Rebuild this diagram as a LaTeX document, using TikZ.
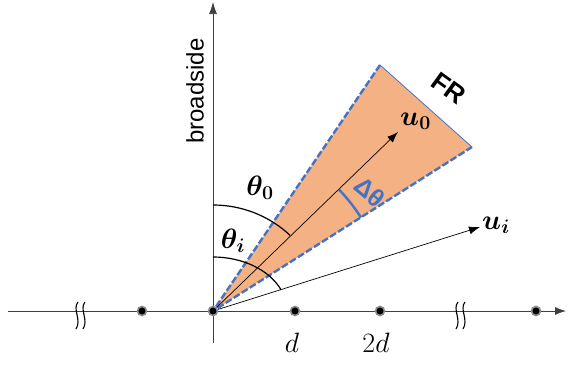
\RequirePackage{fix-cm}
\documentclass[tikz,border=0pt]{standalone}
\usepackage{amsmath,amssymb}
\usepackage{fontspec}
\usepackage{xcolor}
\usepackage{tikz}
\usetikzlibrary{arrows.meta,positioning,calc}
\newfontfamily\labelfont{Liberation Sans}
\definecolor{frfill}{HTML}{F4B183}
\definecolor{frblue}{HTML}{4472C4}

\begin{document}
\begin{tikzpicture}[
  x=1pt, y=1pt,
  elem/.style={circle, draw=black!45, fill=black, line width=1.6pt, minimum size=9pt, inner sep=0pt},
  axis/.style={draw=black!75, line width=0.8pt},
  beam/.style={draw=black, line width=0.7pt, -{Latex[length=11pt,width=8pt]}},
  edgefr/.style={draw=frblue, line width=2.4pt, dash pattern=on 7pt off 2.5pt},
  angarc/.style={draw=black, line width=1.2pt},
  breakmark/.style={draw=black, line width=1.1pt},
  mathlbl/.style={font=\fontsize{28}{32}\selectfont, inner sep=1pt},
  sanslbl/.style={font=\labelfont\fontsize{24}{28}\selectfont}
]
  \useasboundingbox (-213,-54) rectangle (355,311);

  % Field of regard
  \coordinate (O) at (0,0);
  \coordinate (fr1) at (167,246);
  \coordinate (fr2) at (259,164);
  \fill[frfill] (O) -- (fr1) -- (fr2) -- cycle;
  \draw[frblue, line width=0.8pt] (fr1) -- (fr2);
  \draw[edgefr] ($(O)!-4pt!(fr1)$) -- (fr1);
  \draw[edgefr] ($(O)!-4pt!(fr2)$) -- (fr2);

  % Axes
  \coordinate (xl) at (-205,0);
  \coordinate (xr) at (353,0);
  \coordinate (yb) at (0,-32);
  \coordinate (yt) at (0,309);
  \draw[axis, -{Latex[length=11pt,width=8pt]}] (xl) -- (xr);
  \draw[axis, line width=0.7pt, -{Latex[length=12pt,width=8pt]}] (yb) -- (yt);
  \node[sanslbl, rotate=90] (bs) at (-18,220) {broadside};

  % Array elements
  \node[elem] (e1) at (-71,0) {};
  \node[elem] (e0) at (0,0) {};
  \node[elem] (e2) at (82,0) {};
  \node[elem] (e3) at (167,0) {};
  \node[elem] (e4) at (323,0) {};
  \node[mathlbl] (ld) at (79,-32) {$d$};
  \node[mathlbl] (l2d) at (163,-32) {$2d$};

  % Axis breaks
  \foreach \bx in {-136,-129,244,251} {
    \draw[breakmark] (\bx+1,9) .. controls (\bx-5,2) and (\bx+5,-9) .. (\bx-1,-18);
  }

  % Directions
  \coordinate (uz) at (185,179);
  \coordinate (ui) at (267,84);
  \draw[beam] (e0) -- (uz);
  \draw[beam] (e0) -- (ui);
  \node[mathlbl, anchor=west] (luz) at (186,190) {$\boldsymbol{u_0}$};
  \node[mathlbl, anchor=west] (lui) at (268,86) {$\boldsymbol{u_i}$};

  % Angles
  \draw[angarc] (0,106) arc[start angle=90, end angle=45.5, x radius=110pt, y radius=106pt];
  \draw[angarc] (0,54) arc[start angle=90, end angle=23, x radius=74pt, y radius=54pt];
  \draw[frblue, line width=2.4pt] (44:175pt) arc[start angle=44, end angle=32.3, radius=175pt];
  \node[mathlbl] (lt0) at (47,123) {$\boldsymbol{\theta_0}$};
  \node[mathlbl] (lti) at (20,70) {$\boldsymbol{\theta_i}$};
  \node[font=\labelfont\bfseries\fontsize{25}{28}\selectfont, text=frblue, rotate=-40, inner sep=0pt] (ldt) at (157,119) {Δθ};
  \node[font=\labelfont\bfseries\fontsize{26}{30}\selectfont, rotate=-36, inner sep=0pt] (lfr) at (236,223) {FR};
\end{tikzpicture}
\end{document}
